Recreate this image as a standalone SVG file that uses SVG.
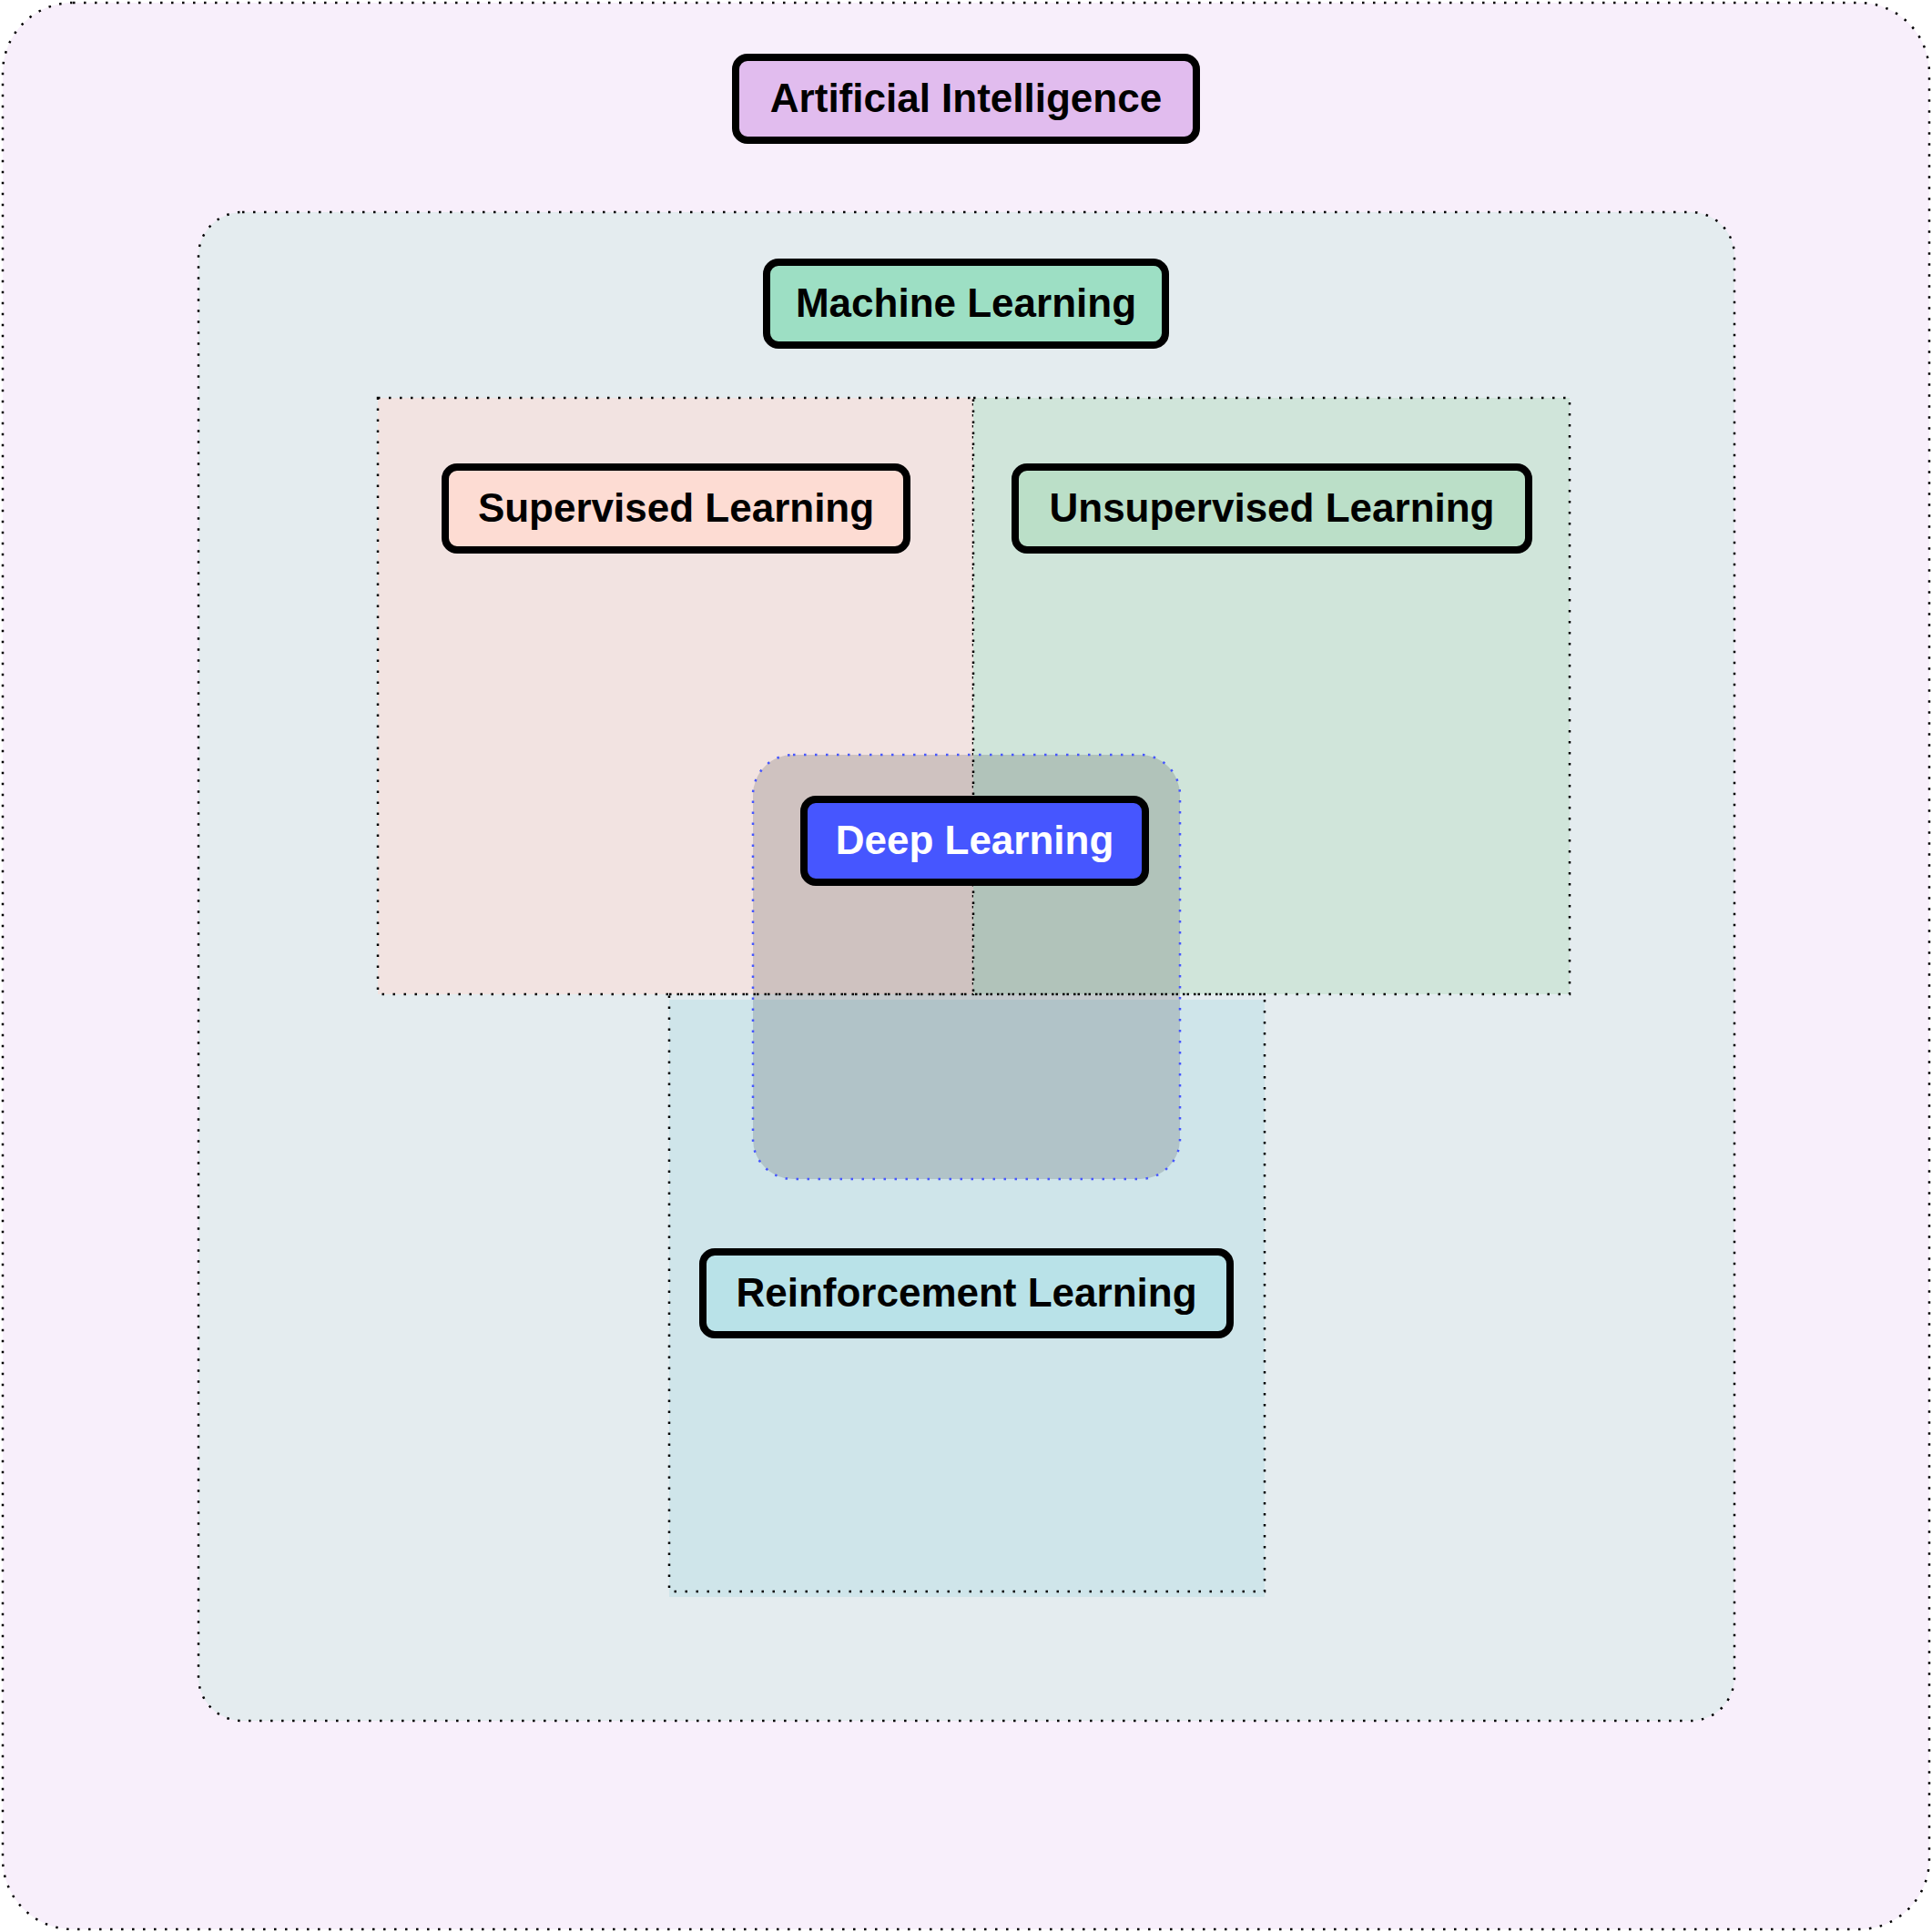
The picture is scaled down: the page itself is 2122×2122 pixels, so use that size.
<svg xmlns="http://www.w3.org/2000/svg" width="2122" height="2122" viewBox="0 0 2122 2122">
<style>
.region{stroke:#000;stroke-width:2.5;stroke-dasharray:2.5 9.5;stroke-linecap:butt}
.node{stroke:#000;stroke-width:8}
.label{font-family:"Liberation Sans",Arial,sans-serif;font-weight:bold;font-size:44px;text-anchor:middle;fill:#000}
</style>
<rect width="2122" height="2122" fill="#ffffff"/>
<g id="ai-region">
<rect x="3" y="3" width="2116" height="2116" rx="77" ry="77" fill="#f8effb" class="region"/>
</g>
<g id="ml-region">
<rect x="218" y="233" width="1687" height="1657" rx="48" ry="48" fill="#e4ecef" class="region"/>
</g>
<g id="supervised-region">
<rect x="415" y="437" width="654" height="655" fill="#f2e3e1" class="region"/>
</g>
<g id="unsupervised-region">
<rect x="1069" y="437" width="655" height="655" fill="#d0e5da" class="region"/>
</g>
<g id="reinforcement-region">
<rect x="735" y="1098" width="654" height="656" fill="#cfe5ea"/>
<rect x="735" y="1092" width="654" height="656" fill="none" class="region"/>
</g>
<g id="dl-region">
<rect x="827" y="829" width="469" height="466" rx="44" ry="44" fill="#000" fill-opacity="0.145" stroke="#4656ff" stroke-width="2.5" stroke-dasharray="2.5 9.5"/>
</g>
<g id="connectors"></g>
<g id="ai">
<rect x="808" y="63" width="506" height="91" rx="13" class="node" fill="#e1bcee"/>
<text x="1061" y="123" class="label">Artificial Intelligence</text>
</g>
<g id="ml">
<rect x="842" y="288" width="438" height="91" rx="13" class="node" fill="#9ddfc4"/>
<text x="1061" y="348" class="label">Machine Learning</text>
</g>
<g id="supervised">
<rect x="489" y="513" width="507" height="91" rx="13" class="node" fill="#fddcd3"/>
<text x="742.5" y="573" class="label">Supervised Learning</text>
</g>
<g id="unsupervised">
<rect x="1115" y="513" width="564" height="91" rx="13" class="node" fill="#bbdfc8"/>
<text x="1397" y="573" class="label">Unsupervised Learning</text>
</g>
<g id="deep">
<rect x="883" y="878" width="375" height="91" rx="13" class="node" fill="#4656ff"/>
<text x="1070.5" y="938" class="label" style="fill:#ffffff">Deep Learning</text>
</g>
<g id="reinforcement">
<rect x="772" y="1375" width="579" height="91" rx="13" class="node" fill="#b9e2e8"/>
<text x="1061.5" y="1435" class="label">Reinforcement Learning</text>
</g>
</svg>
